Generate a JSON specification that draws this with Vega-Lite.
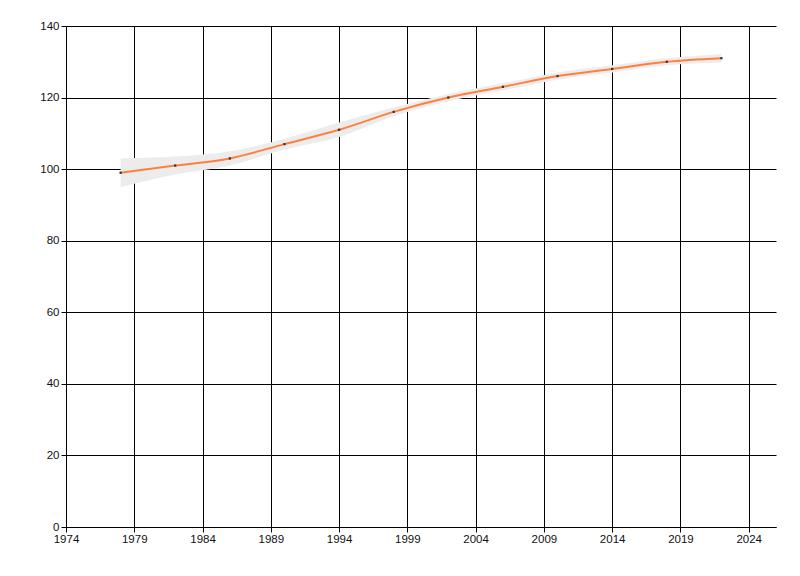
{
  "$schema": "https://vega.github.io/schema/vega-lite/v6.json",
  "autosize": "none",
  "width": 710,
  "height": 501,
  "padding": {"left": 66, "top": 26, "right": 24, "bottom": 49},
  "background": "white",
  "config": {
    "view": {"stroke": null},
    "axis": {
      "labelFont": "Liberation Sans",
      "labelFontSize": 11.5,
      "labelColor": "#111111",
      "labelFlush": false,
      "labelOverlap": false,
      "domainColor": "black",
      "tickColor": "black",
      "gridColor": "black",
      "gridOpacity": 1,
      "gridWidth": 1,
      "tickSize": 5,
      "title": null
    }
  },
  "data": {
    "values": [
      {"year": 1978, "value": 99, "lo": 95, "hi": 103},
      {"year": 1982, "value": 101, "lo": 98.5, "hi": 103.5},
      {"year": 1986, "value": 103, "lo": 101, "hi": 105},
      {"year": 1990, "value": 107, "lo": 105.5, "hi": 108.5},
      {"year": 1994, "value": 111, "lo": 109, "hi": 113},
      {"year": 1998, "value": 116, "lo": 114.8, "hi": 117.2},
      {"year": 2002, "value": 120, "lo": 119, "hi": 121},
      {"year": 2006, "value": 123, "lo": 122, "hi": 124},
      {"year": 2010, "value": 126, "lo": 125, "hi": 127},
      {"year": 2014, "value": 128, "lo": 127, "hi": 129},
      {"year": 2018, "value": 130, "lo": 129, "hi": 131},
      {"year": 2022, "value": 131, "lo": 129.8, "hi": 132.2}
    ]
  },
  "encoding": {
    "x": {
      "field": "year",
      "type": "quantitative",
      "scale": {"domain": [1974, 2026], "nice": false, "zero": false},
      "axis": {"values": [1974, 1979, 1984, 1989, 1994, 1999, 2004, 2009, 2014, 2019, 2024], "format": "d", "labelPadding": 1}
    }
  },
  "layer": [
    {
      "mark": {"type": "area", "interpolate": "monotone", "color": "#ececec", "opacity": 1},
      "encoding": {
        "y": {"field": "lo", "type": "quantitative", "scale": {"domain": [0, 140], "nice": false},
          "axis": {"values": [0, 20, 40, 60, 80, 100, 120, 140], "labelPadding": 2}},
        "y2": {"field": "hi"}
      }
    },
    {
      "mark": {"type": "line", "interpolate": "monotone", "color": "#ff7f3f", "strokeWidth": 2},
      "encoding": {
        "y": {"field": "value", "type": "quantitative"}
      }
    },
    {
      "mark": {"type": "point", "shape": "square", "filled": true, "color": "#333333", "size": 5, "opacity": 1},
      "encoding": {
        "y": {"field": "value", "type": "quantitative"}
      }
    }
  ]
}
